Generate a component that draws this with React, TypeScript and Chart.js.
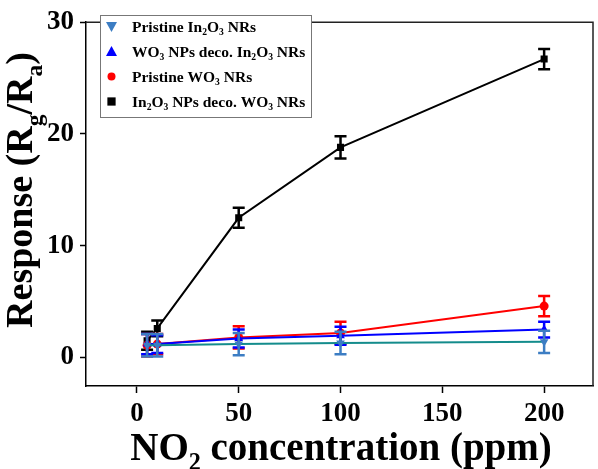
import React, { useEffect, useRef } from "react";
import { Chart, registerables } from "chart.js";
Chart.register(...registerables);

// ---- data ----
const concentrations = [5, 10, 50, 100, 200];
const pristineIn2O3 = [1.1, 1.1, 1.2, 1.3, 1.4];
const pristineIn2O3Err = [1.0, 1.0, 1.0, 1.0, 1.0];
const wo3DecoIn2O3 = [1.2, 1.2, 1.7, 1.95, 2.5];
const wo3DecoIn2O3Err = [0.9, 0.8, 0.8, 0.8, 0.7];
const pristineWO3 = [1.1, 1.2, 1.8, 2.2, 4.6];
const pristineWO3Err = [1.0, 0.9, 1.0, 1.0, 0.9];
const in2o3DecoWO3 = [1.5, 2.6, 12.5, 18.8, 26.7];
const in2o3DecoWO3Err = [0.8, 0.7, 0.9, 1.0, 0.9];
const xTicks = [0, 50, 100, 150, 200];
const yTicks = [0, 10, 20, 30];
const seriesLabels = [
  "Pristine In_2O_3 NRs",
  "WO_3 NPs deco. In_2O_3 NRs",
  "Pristine WO_3 NRs",
  "In_2O_3 NPs deco. WO_3 NRs",
];
const xTitle = "NO_2 concentration (ppm)";
const yTitle = "Response (R_g/R_a)";

const FONT = "'Liberation Serif', 'Times New Roman', serif";

type Seg = { t: string; sub: boolean };
function parseRich(s: string): Seg[] {
  const out: Seg[] = [];
  let buf = "";
  for (let i = 0; i < s.length; i++) {
    if (s[i] === "_" && i + 1 < s.length) {
      if (buf) out.push({ t: buf, sub: false });
      buf = "";
      out.push({ t: s[i + 1], sub: true });
      i++;
    } else buf += s[i];
  }
  if (buf) out.push({ t: buf, sub: false });
  return out;
}

function drawRich(
  ctx: CanvasRenderingContext2D,
  s: string,
  x: number,
  y: number,
  size: number,
  align: "left" | "center"
) {
  const segs = parseRich(s);
  const subSize = size * 0.62;
  const widths = segs.map((g) => {
    ctx.font = `bold ${g.sub ? subSize : size}px ${FONT}`;
    return ctx.measureText(g.t).width;
  });
  const total = widths.reduce((a, b) => a + b, 0);
  let cx = align === "center" ? x - total / 2 : x;
  ctx.textAlign = "left";
  ctx.textBaseline = "alphabetic";
  segs.forEach((g, i) => {
    ctx.font = `bold ${g.sub ? subSize : size}px ${FONT}`;
    ctx.fillText(g.t, cx, g.sub ? y + size * 0.25 : y);
    cx += widths[i];
  });
}

const datasetsSpec = [
  {
    label: seriesLabels[0],
    data: pristineIn2O3,
    err: pristineIn2O3Err,
    line: "rgb(20,140,140)",
    mark: "rgb(60,125,195)",
    style: "triangle",
    rot: 180,
    r: 5,
  },
  {
    label: seriesLabels[1],
    data: wo3DecoIn2O3,
    err: wo3DecoIn2O3Err,
    line: "rgb(0,0,255)",
    mark: "rgb(0,0,255)",
    style: "triangle",
    rot: 0,
    r: 5,
  },
  {
    label: seriesLabels[2],
    data: pristineWO3,
    err: pristineWO3Err,
    line: "rgb(255,0,0)",
    mark: "rgb(255,0,0)",
    style: "circle",
    rot: 0,
    r: 4.5,
  },
  {
    label: seriesLabels[3],
    data: in2o3DecoWO3,
    err: in2o3DecoWO3Err,
    line: "rgb(0,0,0)",
    mark: "rgb(0,0,0)",
    style: "rect",
    rot: 0,
    r: 5,
  },
];

const errorBarPlugin = {
  id: "errorBars",
  afterDatasetDraw(chart: any, args: any) {
    const i = args.index;
    const spec = datasetsSpec[i];
    const ctx = chart.ctx;
    const xs = chart.scales.x;
    const ys = chart.scales.y;
    ctx.save();
    ctx.strokeStyle = spec.mark;
    ctx.lineWidth = 2.5;
    spec.data.forEach((v: number, k: number) => {
      const px = xs.getPixelForValue(concentrations[k]);
      const top = ys.getPixelForValue(v + spec.err[k]);
      const bot = ys.getPixelForValue(v - spec.err[k]);
      ctx.beginPath();
      ctx.moveTo(px, top);
      ctx.lineTo(px, bot);
      ctx.moveTo(px - 6, top);
      ctx.lineTo(px + 6, top);
      ctx.moveTo(px - 6, bot);
      ctx.lineTo(px + 6, bot);
      ctx.stroke();
    });
    ctx.restore();
  },
};

function drawMarker(ctx: CanvasRenderingContext2D, style: string, rot: number, x: number, y: number, r: number, color: string) {
  ctx.save();
  ctx.fillStyle = color;
  ctx.beginPath();
  if (style === "circle") {
    ctx.arc(x, y, r, 0, Math.PI * 2);
  } else if (style === "rect") {
    ctx.rect(x - r * 0.75, y - r * 0.75, r * 1.5, r * 1.5);
  } else {
    const s = rot === 180 ? -1 : 1;
    ctx.moveTo(x, y - s * r);
    ctx.lineTo(x - r, y + s * r * 0.8);
    ctx.lineTo(x + r, y + s * r * 0.8);
    ctx.closePath();
  }
  ctx.fill();
  ctx.restore();
}

const decorPlugin = {
  id: "decor",
  afterDraw(chart: any) {
    const ctx = chart.ctx;
    const a = chart.chartArea;
    ctx.save();
    // frame top & right
    ctx.strokeStyle = "#222";
    ctx.lineWidth = 1.5;
    ctx.beginPath();
    ctx.moveTo(a.left, a.top);
    ctx.lineTo(a.right, a.top);
    ctx.lineTo(a.right, a.bottom);
    ctx.stroke();
    // legend
    const lx = 100, ly = 15, lw = 211, lh = 102;
    ctx.fillStyle = "#fff";
    ctx.fillRect(lx, ly, lw, lh);
    ctx.strokeStyle = "#777";
    ctx.lineWidth = 1;
    ctx.strokeRect(lx + 0.5, ly + 0.5, lw, lh);
    datasetsSpec.forEach((d, i) => {
      const cy = 26.5 + i * 25;
      drawMarker(ctx, d.style, d.rot, 111.5, cy, d.style === "circle" ? 4 : 5.5, d.mark);
      ctx.fillStyle = "#000";
      drawRich(ctx, d.label, 132, cy + 5, 15.5, "left");
    });
    // axis titles
    ctx.fillStyle = "#000";
    drawRich(ctx, xTitle, 341, 460, 39, "center");
    ctx.translate(32, 190);
    ctx.rotate(-Math.PI / 2);
    drawRich(ctx, yTitle, 0, 0, 38, "center");
    ctx.restore();
  },
};

export default function App() {
  const ref = useRef<HTMLCanvasElement>(null);
  useEffect(() => {
    if (!ref.current) return;
    const chart = new Chart(ref.current, {
      type: "line",
      data: {
        datasets: datasetsSpec.map((d) => ({
          label: d.label,
          data: d.data.map((v, k) => ({ x: concentrations[k], y: v })),
          borderColor: d.line,
          backgroundColor: d.mark,
          borderWidth: 2,
          pointStyle: d.style as any,
          pointRotation: d.rot,
          pointRadius: d.r,
          pointBackgroundColor: d.mark,
          pointBorderColor: d.mark,
          pointBorderWidth: 0,
          tension: 0,
        })),
      },
      options: {
        animation: false,
        responsive: false,
        devicePixelRatio: 1,
        layout: { autoPadding: false, padding: { top: 13, right: 5, left: 0, bottom: 0 } } as any,
        plugins: { legend: { display: false }, tooltip: { enabled: false } },
        scales: {
          x: {
            type: "linear",
            min: -25,
            max: 224,
            afterFit: (s: any) => { s.height = 83; },
            afterBuildTicks: (s: any) => { s.ticks = xTicks.map((v) => ({ value: v })); },
            grid: { display: true, drawOnChartArea: false, drawTicks: true, tickLength: 7, tickColor: "#000", tickWidth: 1.5 },
            border: { display: true, color: "#000", width: 1.5 },
            ticks: { color: "#000", font: { family: FONT, size: 27, weight: "bold" }, padding: 5, maxRotation: 0 },
            title: { display: false },
          },
          y: {
            type: "linear",
            min: -2.55,
            max: 30,
            afterFit: (s: any) => { s.width = 86; },
            afterBuildTicks: (s: any) => { s.ticks = yTicks.map((v) => ({ value: v })); },
            grid: { display: true, drawOnChartArea: false, drawTicks: true, tickLength: 6, tickColor: "#000", tickWidth: 1.5 },
            border: { display: true, color: "#000", width: 1.5 },
            ticks: { color: "#000", font: { family: FONT, size: 27, weight: "bold" }, padding: 6 },
            title: { display: false },
          },
        },
      },
      plugins: [errorBarPlugin, decorPlugin],
    });
    return () => chart.destroy();
  }, []);
  return (
    <div style={{ position: "fixed", left: 0, top: 0, width: 598, height: 469, background: "#fff" }}>
      <canvas ref={ref} width={598} height={469} style={{ width: 598, height: 469, display: "block" }} />
    </div>
  );
}
